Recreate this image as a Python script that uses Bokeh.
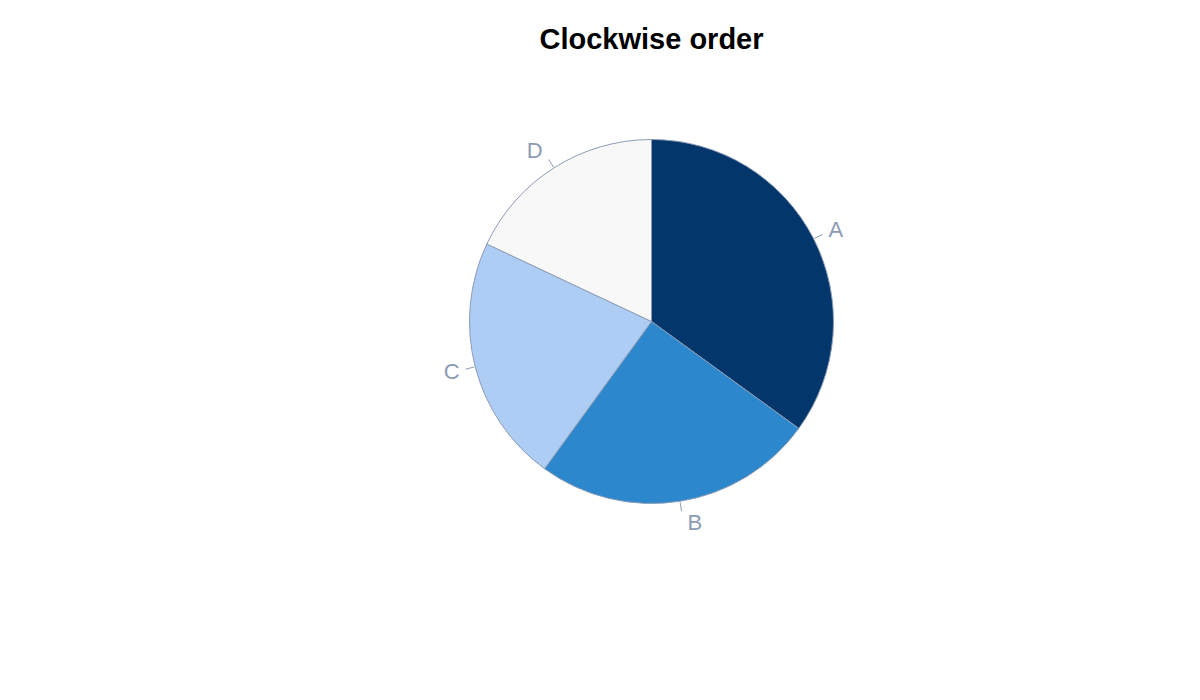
import math
from bokeh.plotting import figure
from bokeh.models import Range1d, ColumnDataSource
from bokeh.core.properties import value
from bokeh.embed import file_html
from bokeh.resources import INLINE

categories = ["A", "B", "C", "D"]
values = [35, 25, 22, 18]
colors = ["#03366b", "#2c87cc", "#aecdf5", "#f8f8f8"]
title_text = "Clockwise order"

W, H = 1184, 684
cx, cy = 651, H - 321   # pie center (figure pixel units)
R = 182

p = figure(width=W, height=H, output_backend="svg", toolbar_location=None,
           x_range=Range1d(0, W), y_range=Range1d(0, H), min_border=0)
p.axis.visible = False
p.grid.visible = False
p.outline_line_color = None
p.background_fill_color = "white"

total = float(sum(values))
starts, ends, mids = [], [], []
cum = 0.0
for v in values:
    a0 = math.pi / 2 - cum / total * 2 * math.pi
    cum += v
    a1 = math.pi / 2 - cum / total * 2 * math.pi
    starts.append(a0)
    ends.append(a1)
    mids.append((a0 + a1) / 2)

src = ColumnDataSource(dict(start=starts, end=ends, color=colors, cat=categories))
p.wedge(x=cx, y=cy, radius=R, start_angle="start", end_angle="end", direction="clock",
        fill_color="color", line_color="#8c9bb4", line_width=1, source=src)

lab_color = "#8c9bb4"
x0s, y0s, x1s, y1s = [], [], [], []
rx, ry, rt, lxs, lys, lt = [], [], [], [], [], []
for m, cat in zip(mids, categories):
    c, s = math.cos(m), math.sin(m)
    x0s.append(cx + (R + 1) * c); y0s.append(cy + (R + 1) * s)
    ex, ey = cx + (R + 10) * c, cy + (R + 10) * s
    x1s.append(ex); y1s.append(ey)
    ty = cy + (R + 21) * s
    if c >= 0:
        rx.append(ex + 6); ry.append(ty); rt.append(cat)
    else:
        lxs.append(ex - 6); lys.append(ty); lt.append(cat)

p.segment(x0=x0s, y0=y0s, x1=x1s, y1=y1s, line_color=lab_color, line_width=1)
p.text(x=rx, y=ry, text=rt, text_align="left", text_baseline="middle",
       text_font=value("Liberation Sans"), text_font_size="22px", text_color=lab_color)
p.text(x=lxs, y=lys, text=lt, text_align="right", text_baseline="middle",
       text_font=value("Liberation Sans"), text_font_size="22px", text_color=lab_color)

p.text(x=[651], y=[H - 38], text=[title_text], text_align="center", text_baseline="middle",
       text_font=value("Liberation Sans"), text_font_size="29px", text_font_style="bold",
       text_color="#000000")

open("out.html", "w").write(file_html(p, INLINE))
